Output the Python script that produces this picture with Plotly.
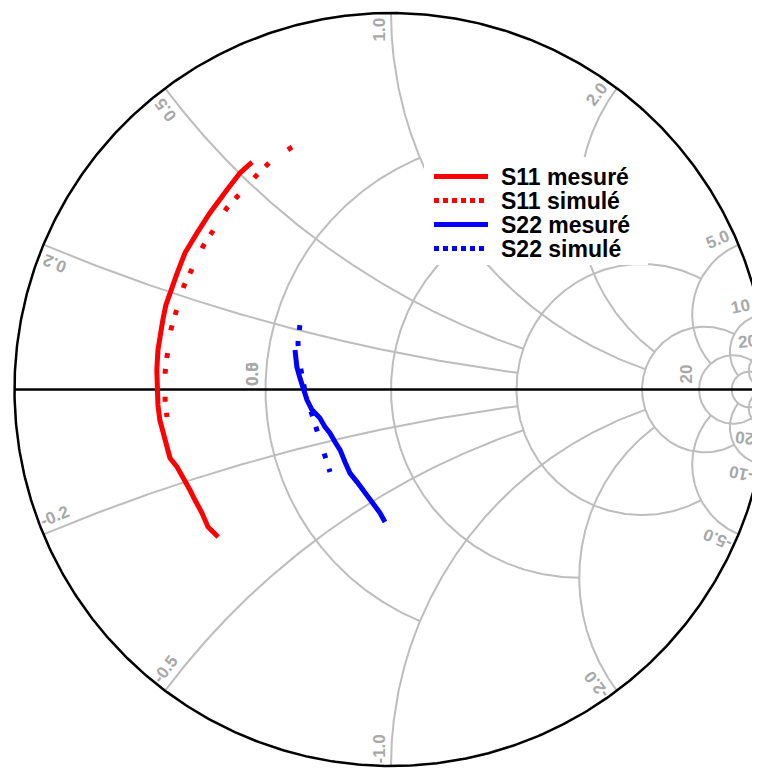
import numpy as np
import plotly.graph_objects as go

s11_mes_re = [-0.369, -0.401, -0.436, -0.481, -0.515, -0.547, -0.568, -0.582, -0.598, -0.606,
              -0.614, -0.619, -0.622, -0.622, -0.619, -0.614, -0.606, -0.598, -0.587, -0.568,
              -0.547, -0.534, -0.521, -0.502, -0.486, -0.459]
s11_mes_im = [0.604, 0.575, 0.530, 0.469, 0.416, 0.363, 0.309, 0.270, 0.224, 0.185,
              0.145, 0.105, 0.052, -0.001, -0.041, -0.081, -0.113, -0.147, -0.182, -0.206,
              -0.240, -0.267, -0.293, -0.328, -0.365, -0.392]

s11_sim_re = [-0.263, -0.324, -0.356, -0.406, -0.436, -0.475, -0.499, -0.531, -0.550, -0.571,
              -0.584, -0.595, -0.600, -0.600, -0.595]
s11_sim_im = [0.644, 0.602, 0.570, 0.514, 0.482, 0.418, 0.381, 0.315, 0.275, 0.206,
              0.161, 0.086, 0.044, -0.033, -0.073]

s22_mes_re = [-0.255, -0.250, -0.242, -0.234, -0.223, -0.210, -0.189, -0.175, -0.162, -0.149,
              -0.135, -0.122, -0.109, -0.090, -0.074, -0.061, -0.048, -0.029, -0.016]
s22_mes_im = [0.105, 0.060, 0.031, 0.004, -0.028, -0.054, -0.076, -0.100, -0.116, -0.139,
              -0.161, -0.193, -0.222, -0.246, -0.267, -0.286, -0.301, -0.328, -0.352]

s22_sim_re = [-0.242, -0.247, -0.244, -0.236, -0.228, -0.218, -0.207, -0.194, -0.178, -0.162]
s22_sim_im = [0.171, 0.124, 0.078, 0.031, -0.007, -0.041, -0.076, -0.116, -0.171, -0.219]

series_names = ["S11 mesuré", "S11 simulé", "S22 mesuré", "S22 simulé"]

# smith grid: resistance circles / reactance arcs and where each one stops
real_ticks = [0.5, 1.0, 2.0, 5.0, 10, 20]
real_ends = [1.0, 2.0, 5.0, 10, 20, np.inf]
imag_ticks = [0.2, 0.5, 1.0, 2.0, 5.0, 10, 20]
imag_ends = [2.0, 2.0, 5.0, 5.0, 10, 20, np.inf]
imag_labels = ["0.2", "0.5", "1.0", "2.0", "5.0", "10", "20"]
real_labels = [("0.0", 0.5), ("0.5", 0.5), ("20", 10)]

PX = 376.5          # pixels per unit of reflection coefficient
OFF = 8             # page margin around the figure div
W, H = 760 - OFF, 769 - OFF
CX, CY = 391 - OFF, 389.5 - OFF   # chart centre inside the figure
GRID = "#bdbdbd"
LABEL = "#a8a8a8"


def gamma(z):
    return (z - 1) / (z + 1)


gx, gy = [], []
for r, xe in zip(real_ticks, real_ends):
    u = np.linspace(-np.arctan(xe), np.arctan(xe), 600)
    g = gamma(r + 1j * np.tan(u))
    gx += list(g.real) + [None]
    gy += list(g.imag) + [None]
for x, re in zip(imag_ticks, imag_ends):
    t_end = re / (1 + re) if np.isfinite(re) else 1 - 1e-6
    t = np.linspace(0, t_end, 600)
    res = t / (1 - t)
    for s in (1, -1):
        g = gamma(res + 1j * s * x)
        gx += list(g.real) + [None]
        gy += list(g.imag) + [None]

phi = np.linspace(0, 2 * np.pi, 721)
ox = list(np.cos(phi)) + [None, -1, 1]
oy = list(np.sin(phi)) + [None, 0, 0]

fig = go.Figure()
fig.add_trace(go.Scatter(x=gx, y=gy, mode="lines", line=dict(color=GRID, width=2),
                         hoverinfo="skip", showlegend=False))
fig.add_trace(go.Scatter(x=ox, y=oy, mode="lines", line=dict(color="black", width=2.5),
                         hoverinfo="skip", showlegend=False))

styles = [("red", "solid"), ("red", "5px,23px,5px,11px"),
          ("blue", "solid"), ("blue", "5px,11px,5px,23px")]
data = [(s11_mes_re, s11_mes_im), (s11_sim_re, s11_sim_im),
        (s22_mes_re, s22_mes_im), (s22_sim_re, s22_sim_im)]
for name, (re, im), (col, dash) in zip(series_names, data, styles):
    fig.add_trace(go.Scatter(x=re, y=im, mode="lines", name=name, showlegend=False,
                             line=dict(color=col, width=5, dash=dash)))

tick_font = dict(family="Liberation Sans", size=17, color=LABEL, weight="bold")
annotations = []
for x, lab in zip(imag_ticks, imag_labels):
    for s in (1, -1):
        th = np.angle(gamma(1j * s * x))
        c, sn = np.cos(th), np.sin(th)
        # label sits inside the rim, beside its arc (away from the real axis)
        dx = 17 * -c + 12.5 * (-sn if s > 0 else sn)
        dy = 17 * sn + 12.5 * (-c if s > 0 else c)
        annotations.append(dict(x=c + dx / PX, y=sn - dy / PX, xref="x", yref="y",
                                text=("-" if s < 0 else "") + lab, showarrow=False,
                                textangle=-(np.degrees(th) % 180), font=tick_font))
for lab, r in real_labels:
    annotations.append(dict(x=(r - 1) / (r + 1) - 13.5 / PX, y=15.5 / PX, xref="x", yref="y",
                            text=lab, showarrow=False, textangle=-90, font=tick_font))


# legend drawn by hand: white box, line samples and labels (page pixels)
def px_x(v):
    return (v - OFF) / W


def px_y(v):
    return 1 - (v - OFF) / H


row_y = [176.5, 200.5, 224.5, 248.5]
shapes = [dict(type="rect", xref="paper", yref="paper", x0=px_x(424), x1=px_x(648),
               y0=px_y(265), y1=px_y(157), fillcolor="white", line=dict(width=0),
               layer="above")]
for name, (col, dash), yy in zip(series_names, styles, row_y):
    shapes.append(dict(type="line", xref="paper", yref="paper", x0=px_x(434), x1=px_x(488),
                       y0=px_y(yy), y1=px_y(yy), layer="above",
                       line=dict(color=col, width=5, dash="solid" if dash == "solid" else "5px,4px")))
    annotations.append(dict(x=px_x(499), y=px_y(yy), xref="paper", yref="paper", text=name,
                            showarrow=False, xanchor="left", yanchor="middle", height=23,
                            font=dict(family="Liberation Sans", size=23, color="black",
                                      weight="bold")))

fig.update_layout(
    width=W, height=H,
    margin=dict(l=0, r=0, t=0, b=0),
    paper_bgcolor="white", plot_bgcolor="white",
    xaxis=dict(range=[-CX / PX, (W - CX) / PX], visible=False, fixedrange=True),
    yaxis=dict(range=[-(H - CY) / PX, CY / PX], visible=False, fixedrange=True),
    showlegend=False,
    annotations=annotations,
    shapes=shapes,
)

fig.write_html("out.html")
